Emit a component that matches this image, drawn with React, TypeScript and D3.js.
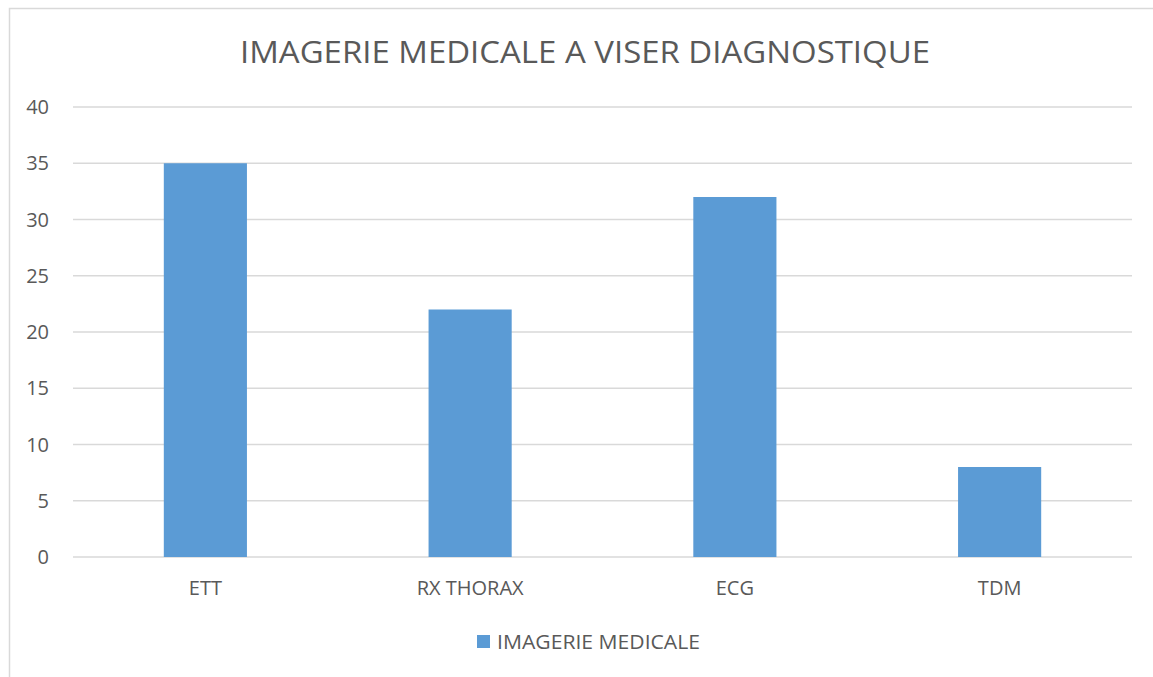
import React from 'react';
import * as d3 from 'd3';

const categories = ['ETT', 'RX THORAX', 'ECG', 'TDM'];
const values = [35, 22, 32, 8];
const yTicks = [0, 5, 10, 15, 20, 25, 30, 35, 40];
const seriesName = 'IMAGERIE MEDICALE';
const title = 'IMAGERIE MEDICALE A VISER DIAGNOSTIQUE';

const W = 1153;
const H = 677;
const font = '"Open Sans", "Liberation Sans", sans-serif';
const textColor = '#595959';
const barColor = '#5b9bd5';

const App = () => {
  const x = d3.scaleBand<string>().domain(categories).range([73, 1132]).padding(0);
  const y = d3.scaleLinear().domain([0, 40]).range([557, 107]);
  const barW = x.bandwidth() * 0.314;

  return (
    <svg width={W} height={H} style={{ position: 'absolute', left: 0, top: 0 }}>
      <rect x={0} y={0} width={W} height={H} fill="#fff" />
      <rect x={9.5} y={8.5} width={1160} height={700} fill="#fff" stroke="#d9d9d9" strokeWidth={1.5} />
      <text x={585} y={63} textAnchor="middle" fontFamily={font} fontSize={31} fill={textColor}
        textLength={690} lengthAdjust="spacingAndGlyphs">{title}</text>
      {yTicks.map(t => (
        <g key={t}>
          <line x1={73} x2={1132} y1={y(t)} y2={y(t)} stroke="#d9d9d9" strokeWidth={1.3} />
          <text x={49} y={y(t)} dy="0.36em" textAnchor="end" fontFamily={font} fontSize={20} fill={textColor}>{t}</text>
        </g>
      ))}
      {categories.map((c, i) => (
        <g key={c}>
          <rect x={(x(c) as number) + x.bandwidth() / 2 - barW / 2} y={y(values[i])} width={barW}
            height={y(0) - y(values[i])} fill={barColor} />
          <text x={(x(c) as number) + x.bandwidth() / 2} y={595} textAnchor="middle" fontFamily={font}
            fontSize={20} fill={textColor}>{c}</text>
        </g>
      ))}
      <rect x={477} y={635} width={13} height={13} fill={barColor} />
      <text x={497} y={649} fontFamily={font} fontSize={20} fill={textColor}
        textLength={203} lengthAdjust="spacingAndGlyphs">{seriesName}</text>
    </svg>
  );
};

export default App;
